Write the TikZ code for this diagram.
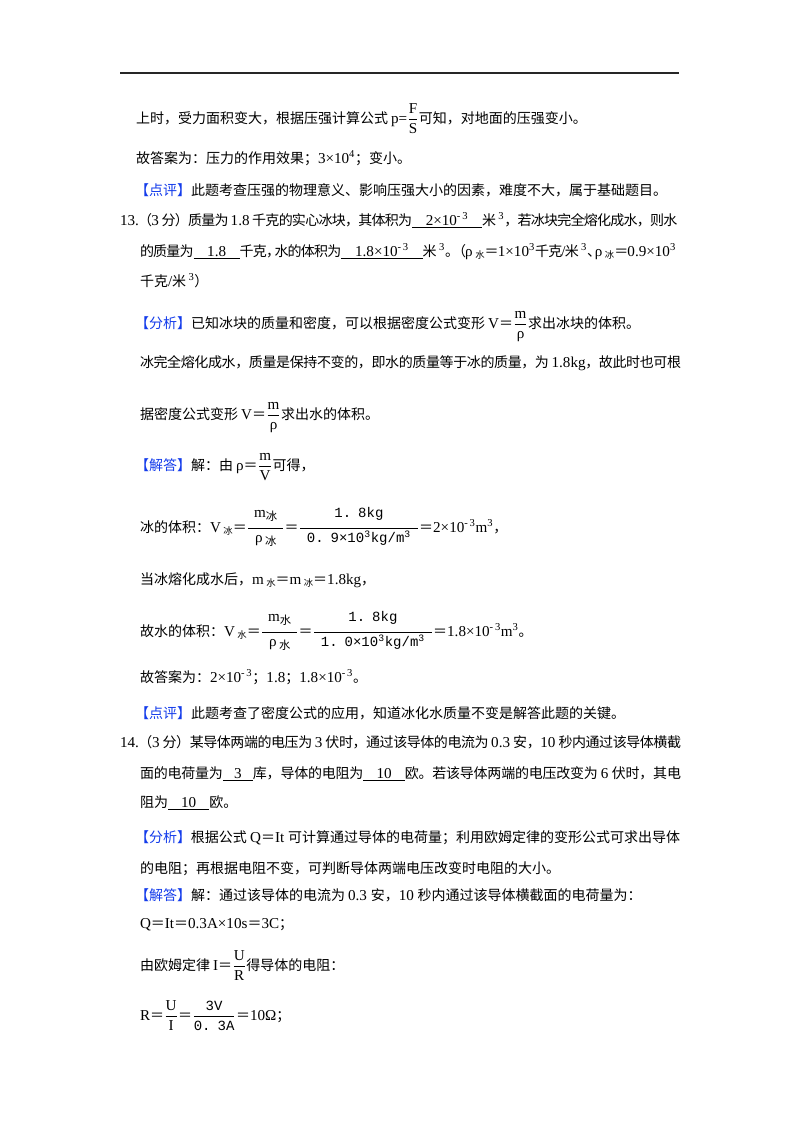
\documentclass[tikz,border=0pt]{standalone}
\usepackage{fontspec}
\setmainfont{Liberation Serif}[Scale=1.08]
\newfontfamily\cjk{Noto Sans CJK SC}
\newfontfamily\monof{Liberation Mono}[WordSpace=0.5]
\def\latinfont{\rmfamily}
\XeTeXinterchartokenstate=1
\newXeTeXintercharclass\cjkcls
\newcount\cc
\def\setcls#1#2{\cc=#1 \loop\ifnum\cc<#2 \XeTeXcharclass\cc=\cjkcls \advance\cc by 1 \repeat}
\setcls{"3000}{"3040}
\setcls{"4E00}{"A000}
\setcls{"FF00}{"FFF0}
\XeTeXinterchartoks 0 \cjkcls={\hskip0pt plus 1pt minus 0.6pt\cjk}
\XeTeXinterchartoks 4095 \cjkcls={\cjk}
\XeTeXinterchartoks \cjkcls 0={\hskip0pt plus 1pt minus 0.6pt\latinfont}
\XeTeXinterchartoks 4095 0={\latinfont}
\XeTeXinterchartoks \cjkcls \cjkcls={\hskip0pt plus 1pt minus 0.6pt}
\definecolor{hblue}{RGB}{20,60,235}
\newcommand\fsz{\fontsize{10.5pt}{12pt}\selectfont}
\newcommand\sbx[1]{\raisebox{-0.4ex}{\fontsize{7pt}{8pt}\selectfont #1}}
\newcommand\sbxb[1]{\raisebox{-0.35ex}{\fontsize{8.5pt}{9pt}\selectfont #1}}
\newcommand\sps[1]{\textsuperscript{#1}}
\newcommand\mthree{\textsuperscript{-\,3}}
\newcommand\blk[2]{\underline{\makebox[#1]{#2}}}
\newcommand\fr[2]{$\displaystyle\frac{\mbox{#1}}{\mbox{#2}}$}
\newcommand\bigfrac[3]{$\displaystyle\frac{\makebox[#1]{\rule[-6.5pt]{0pt}{6.5pt}#2}}{\makebox[#1]{\rule{0pt}{9.5pt}#3}}$}
\newcommand\hd[1]{\textcolor{hblue}{#1}}
\newcommand\monotext[1]{{\def\latinfont{\monof}\monof #1}}
\tikzset{txt/.style={anchor=base west, inner sep=0pt, outer sep=0pt, font=\fsz\cjk}}
\begin{document}
\begin{tikzpicture}[x=0.75pt,y=-0.75pt]
\path[fill=white] (0,0) rectangle (800,1132);
\draw[line width=1.5pt, black!85] (120,73) -- (679,73);
\node[txt] (l1) at (136,123) {上时，受力面积变大，根据压强计算公式 p=\fr{F}{S}可知，对地面的压强变小。};
\node[txt] (l2) at (136,163) {故答案为：压力的作用效果；3×10\sps{4}；变小。};
\node[txt] (l3) at (135,195) {\hd{【点评】}此题考查压强的物理意义、影响压强大小的因素，难度不大，属于基础题目。};
\node[txt] (l4) at (120,225) {\makebox[418pt][s]{13.（3 分）质量为 1.8 千克的实心冰块，其体积为\blk{52.5pt}{2×10\mthree}米\,\sps{3}，若冰块完全熔化成水，则水}};
\node[txt] (l5) at (140,256) {\makebox[402pt][s]{的质量为\blk{34.5pt}{1.8}千克，\kern-0.4em 水的体积为\blk{61pt}{1.8×10\mthree}米\,\sps{3}。\kern-0.5em（ρ\,\sbx{水}＝1×10\sps{3}千克/米\,\sps{3}、\kern-0.45em ρ\,\sbx{冰}＝0.9×10\sps{3}}};
\node[txt] (l6) at (140,286) {千克/米\,\sps{3}）};
\node[txt] (l7) at (135,328) {\hd{【分析】}已知冰块的质量和密度，可以根据密度公式变形 V＝\fr{m}{ρ}求出冰块的体积。};
\node[txt] (l8) at (140,367) {\makebox[405.75pt][s]{冰完全熔化成水，质量是保持不变的，即水的质量等于冰的质量，为 1.8kg，故此时也可根}};
\node[txt] (l9) at (140,419) {据密度公式变形 V＝\fr{m}{ρ}求出水的体积。};
\node[txt] (l10) at (135,470) {\hd{【解答】}解：由 ρ＝\fr{m}{V}可得，};
\node[txt] (l11) at (140,532) {冰的体积：V\,\sbx{冰}＝\bigfrac{26pt}{m\sbxb{冰}}{ρ\,\sbxb{冰}}＝\bigfrac{88pt}{\monotext{1. 8kg}}{\monotext{0. 9×10\textsuperscript{3}kg/m\textsuperscript{3}}}＝2×10\mthree m\sps{3}，};
\node[txt] (l12) at (140,584) {当冰熔化成水后，m\,\sbx{水}＝m\,\sbx{冰}＝1.8kg，};
\node[txt] (l13) at (140,636) {故水的体积：V\,\sbx{水}＝\bigfrac{26pt}{m\sbxb{水}}{ρ\,\sbxb{水}}＝\bigfrac{88pt}{\monotext{1. 8kg}}{\monotext{1. 0×10\textsuperscript{3}kg/m\textsuperscript{3}}}＝1.8×10\mthree m\sps{3}。};
\node[txt] (l14) at (140,682) {故答案为：2×10\mthree；1.8；1.8×10\mthree。};
\node[txt] (l15) at (135,718) {\hd{【点评】}此题考查了密度公式的应用，知道冰化水质量不变是解答此题的关键。};
\node[txt] (l16) at (120,747) {\makebox[420.75pt][s]{14.（3 分）某导体两端的电压为 3 伏时，通过该导体的电流为 0.3 安，10 秒内通过该导体横截}};
\node[txt] (l17) at (140,778) {\makebox[405.75pt][s]{面的电荷量为\blk{22.5pt}{3}库，导体的电阻为\blk{31pt}{10}欧。若该导体两端的电压改变为 6 伏时，其电}};
\node[txt] (l18) at (140,807) {阻为\blk{31pt}{10}欧。};
\node[txt] (l19) at (135,842) {\makebox[408.75pt][s]{\hd{【分析】}根据公式 Q＝It 可计算通过导体的电荷量；利用欧姆定律的变形公式可求出导体}};
\node[txt] (l20) at (140,873) {的电阻；再根据电阻不变，可判断导体两端电压改变时电阻的大小。};
\node[txt] (l21) at (135,900) {\hd{【解答】}解：通过该导体的电流为 0.3 安，10 秒内通过该导体横截面的电荷量为：};
\node[txt] (l22) at (140,928) {Q＝It＝0.3A×10s＝3C；};
\node[txt] (l23) at (140,970) {由欧姆定律 I＝\fr{U}{R}得导体的电阻：};
\node[txt] (l24) at (140,1020) {R＝\fr{U}{I}＝\fr{\monotext{3V}}{\monotext{0. 3A}}＝10Ω；};
\end{tikzpicture}
\end{document}
